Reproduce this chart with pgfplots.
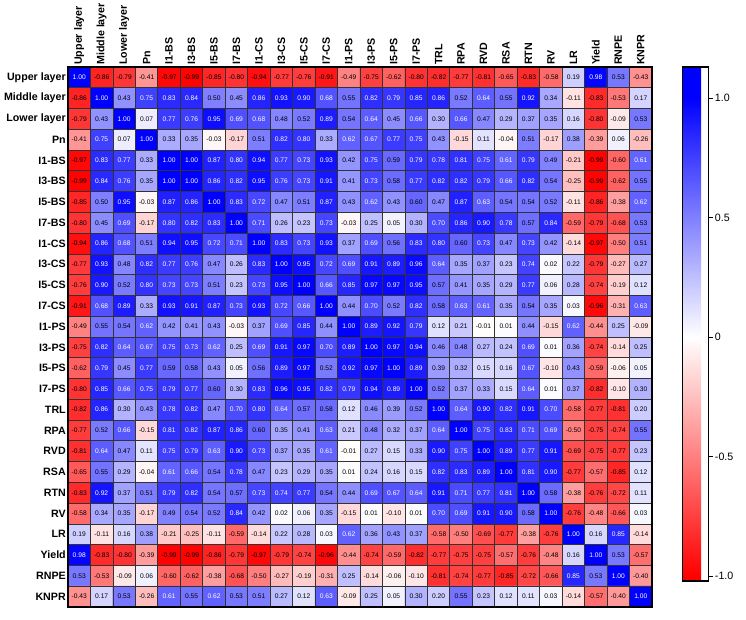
\documentclass[border=0pt]{standalone}
\usepackage{pgfplots}
\pgfplotsset{compat=1.18}
\usepackage{fontspec}
\setmainfont{Liberation Sans}
\begin{document}
\begin{tikzpicture}
\useasboundingbox (0,0) rectangle (559.5pt,465pt);
\begin{axis}[
  at={(51pt,9.75pt)}, anchor=south west,
  scale only axis, width=438pt, height=405pt,
  xmin=-0.5, xmax=25.5, ymin=-0.5, ymax=25.5,
  y dir=reverse,
  colormap={rwb}{rgb255(0pt)=(255,0,0); rgb255(2pt)=(255,0,0); rgb255(102pt)=(255,255,255); rgb255(202pt)=(0,0,255); rgb255(215pt)=(0,0,255)},
  point meta min=-1.02, point meta max=1.13,
  xtick={0,...,25}, ytick={0,...,25},
  xticklabels={Upper layer,Middle layer,Lower layer,Pn,I1-BS,I3-BS,I5-BS,I7-BS,I1-CS,I3-CS,I5-CS,I7-CS,I1-PS,I3-PS,I5-PS,I7-PS,TRL,RPA,RVD,RSA,RTN,RV,LR,Yield,RNPE,KNPR},
  yticklabels={Upper layer,Middle layer,Lower layer,Pn,I1-BS,I3-BS,I5-BS,I7-BS,I1-CS,I3-CS,I5-CS,I7-CS,I1-PS,I3-PS,I5-PS,I7-PS,TRL,RPA,RVD,RSA,RTN,RV,LR,Yield,RNPE,KNPR},
  xticklabel pos=upper,
  xticklabel style={rotate=90, anchor=west, inner sep=1.5pt, font=\bfseries\fontsize{8}{9.6}\selectfont},
  yticklabel style={anchor=east, inner sep=1.5pt, font=\bfseries\fontsize{8}{9.6}\selectfont},
  major tick length=0pt, minor tick length=0pt,
  minor xtick={-0.5,0.5,...,25.5}, minor ytick={-0.5,0.5,...,25.5},
  grid=minor, minor grid style={black!80, line width=0.6pt},
  axis on top,
  axis line style={line width=2.2pt},
  nodes near coords={\ifdim\pgfplotspointmetatransformed pt>756pt\color{white}\fi\pgfmathprintnumber[fixed,fixed zerofill,precision=2,assume math mode=true]{\pgfplotspointmeta}},
  nodes near coords align={center},
  every node near coord/.append style={anchor=center, inner sep=0pt, font=\fontsize{5}{6}\selectfont},
  colorbar,
  colorbar style={
    at={(parent axis.north east)}, anchor=north west, xshift=14pt,
    scale only axis, width=20pt, height=385.5pt,
    ytick={-1,-0.5,0,0.5,1}, yticklabels={-1.0,-0.5,0,0.5,1.0},
    yticklabel style={font=\fontsize{8}{9.6}\selectfont, inner sep=1.5pt},
    axis line style={line width=0.8pt},
    major tick length=3pt, tick align=outside, ytick pos=right,
    tick style={black, line width=0.6pt},
  },
]
\addplot[matrix plot*, mesh/cols=26, point meta=explicit]
 table[header=false, row sep=\\, x expr={\coordindex-26*floor((\coordindex+0.5)/26)}, y expr={floor((\coordindex+0.5)/26)}, meta index=0] {
1.00\\ -0.86\\ -0.79\\ -0.41\\ -0.97\\ -0.99\\ -0.85\\ -0.80\\ -0.94\\ -0.77\\ -0.76\\ -0.91\\ -0.49\\ -0.75\\ -0.62\\ -0.80\\ -0.82\\ -0.77\\ -0.81\\ -0.65\\ -0.83\\ -0.58\\ 0.19\\ 0.98\\ 0.53\\ -0.43\\
-0.86\\ 1.00\\ 0.43\\ 0.75\\ 0.83\\ 0.84\\ 0.50\\ 0.45\\ 0.86\\ 0.93\\ 0.90\\ 0.68\\ 0.55\\ 0.82\\ 0.79\\ 0.85\\ 0.86\\ 0.52\\ 0.64\\ 0.55\\ 0.92\\ 0.34\\ -0.11\\ -0.83\\ -0.53\\ 0.17\\
-0.79\\ 0.43\\ 1.00\\ 0.07\\ 0.77\\ 0.76\\ 0.95\\ 0.69\\ 0.68\\ 0.48\\ 0.52\\ 0.89\\ 0.54\\ 0.64\\ 0.45\\ 0.66\\ 0.30\\ 0.66\\ 0.47\\ 0.29\\ 0.37\\ 0.35\\ 0.16\\ -0.80\\ -0.09\\ 0.53\\
-0.41\\ 0.75\\ 0.07\\ 1.00\\ 0.33\\ 0.35\\ -0.03\\ -0.17\\ 0.51\\ 0.82\\ 0.80\\ 0.33\\ 0.62\\ 0.67\\ 0.77\\ 0.75\\ 0.43\\ -0.15\\ 0.11\\ -0.04\\ 0.51\\ -0.17\\ 0.38\\ -0.39\\ 0.06\\ -0.26\\
-0.97\\ 0.83\\ 0.77\\ 0.33\\ 1.00\\ 1.00\\ 0.87\\ 0.80\\ 0.94\\ 0.77\\ 0.73\\ 0.93\\ 0.42\\ 0.75\\ 0.59\\ 0.79\\ 0.78\\ 0.81\\ 0.75\\ 0.61\\ 0.79\\ 0.49\\ -0.21\\ -0.99\\ -0.60\\ 0.61\\
-0.99\\ 0.84\\ 0.76\\ 0.35\\ 1.00\\ 1.00\\ 0.86\\ 0.82\\ 0.95\\ 0.76\\ 0.73\\ 0.91\\ 0.41\\ 0.73\\ 0.58\\ 0.77\\ 0.82\\ 0.82\\ 0.79\\ 0.66\\ 0.82\\ 0.54\\ -0.25\\ -0.99\\ -0.62\\ 0.55\\
-0.85\\ 0.50\\ 0.95\\ -0.03\\ 0.87\\ 0.86\\ 1.00\\ 0.83\\ 0.72\\ 0.47\\ 0.51\\ 0.87\\ 0.43\\ 0.62\\ 0.43\\ 0.60\\ 0.47\\ 0.87\\ 0.63\\ 0.54\\ 0.54\\ 0.52\\ -0.11\\ -0.86\\ -0.38\\ 0.62\\
-0.80\\ 0.45\\ 0.69\\ -0.17\\ 0.80\\ 0.82\\ 0.83\\ 1.00\\ 0.71\\ 0.26\\ 0.23\\ 0.73\\ -0.03\\ 0.25\\ 0.05\\ 0.30\\ 0.70\\ 0.86\\ 0.90\\ 0.78\\ 0.57\\ 0.84\\ -0.59\\ -0.79\\ -0.68\\ 0.53\\
-0.94\\ 0.86\\ 0.68\\ 0.51\\ 0.94\\ 0.95\\ 0.72\\ 0.71\\ 1.00\\ 0.83\\ 0.73\\ 0.93\\ 0.37\\ 0.69\\ 0.56\\ 0.83\\ 0.80\\ 0.60\\ 0.73\\ 0.47\\ 0.73\\ 0.42\\ -0.14\\ -0.97\\ -0.50\\ 0.51\\
-0.77\\ 0.93\\ 0.48\\ 0.82\\ 0.77\\ 0.76\\ 0.47\\ 0.26\\ 0.83\\ 1.00\\ 0.95\\ 0.72\\ 0.69\\ 0.91\\ 0.89\\ 0.96\\ 0.64\\ 0.35\\ 0.37\\ 0.23\\ 0.74\\ 0.02\\ 0.22\\ -0.79\\ -0.27\\ 0.27\\
-0.76\\ 0.90\\ 0.52\\ 0.80\\ 0.73\\ 0.73\\ 0.51\\ 0.23\\ 0.73\\ 0.95\\ 1.00\\ 0.66\\ 0.85\\ 0.97\\ 0.97\\ 0.95\\ 0.57\\ 0.41\\ 0.35\\ 0.29\\ 0.77\\ 0.06\\ 0.28\\ -0.74\\ -0.19\\ 0.12\\
-0.91\\ 0.68\\ 0.89\\ 0.33\\ 0.93\\ 0.91\\ 0.87\\ 0.73\\ 0.93\\ 0.72\\ 0.66\\ 1.00\\ 0.44\\ 0.70\\ 0.52\\ 0.82\\ 0.58\\ 0.63\\ 0.61\\ 0.35\\ 0.54\\ 0.35\\ 0.03\\ -0.96\\ -0.31\\ 0.63\\
-0.49\\ 0.55\\ 0.54\\ 0.62\\ 0.42\\ 0.41\\ 0.43\\ -0.03\\ 0.37\\ 0.69\\ 0.85\\ 0.44\\ 1.00\\ 0.89\\ 0.92\\ 0.79\\ 0.12\\ 0.21\\ -0.01\\ 0.01\\ 0.44\\ -0.15\\ 0.62\\ -0.44\\ 0.25\\ -0.09\\
-0.75\\ 0.82\\ 0.64\\ 0.67\\ 0.75\\ 0.73\\ 0.62\\ 0.25\\ 0.69\\ 0.91\\ 0.97\\ 0.70\\ 0.89\\ 1.00\\ 0.97\\ 0.94\\ 0.46\\ 0.48\\ 0.27\\ 0.24\\ 0.69\\ 0.01\\ 0.36\\ -0.74\\ -0.14\\ 0.25\\
-0.62\\ 0.79\\ 0.45\\ 0.77\\ 0.59\\ 0.58\\ 0.43\\ 0.05\\ 0.56\\ 0.89\\ 0.97\\ 0.52\\ 0.92\\ 0.97\\ 1.00\\ 0.89\\ 0.39\\ 0.32\\ 0.15\\ 0.16\\ 0.67\\ -0.10\\ 0.43\\ -0.59\\ -0.06\\ 0.05\\
-0.80\\ 0.85\\ 0.66\\ 0.75\\ 0.79\\ 0.77\\ 0.60\\ 0.30\\ 0.83\\ 0.96\\ 0.95\\ 0.82\\ 0.79\\ 0.94\\ 0.89\\ 1.00\\ 0.52\\ 0.37\\ 0.33\\ 0.15\\ 0.64\\ 0.01\\ 0.37\\ -0.82\\ -0.10\\ 0.30\\
-0.82\\ 0.86\\ 0.30\\ 0.43\\ 0.78\\ 0.82\\ 0.47\\ 0.70\\ 0.80\\ 0.64\\ 0.57\\ 0.58\\ 0.12\\ 0.46\\ 0.39\\ 0.52\\ 1.00\\ 0.64\\ 0.90\\ 0.82\\ 0.91\\ 0.70\\ -0.58\\ -0.77\\ -0.81\\ 0.20\\
-0.77\\ 0.52\\ 0.66\\ -0.15\\ 0.81\\ 0.82\\ 0.87\\ 0.86\\ 0.60\\ 0.35\\ 0.41\\ 0.63\\ 0.21\\ 0.48\\ 0.32\\ 0.37\\ 0.64\\ 1.00\\ 0.75\\ 0.83\\ 0.71\\ 0.69\\ -0.50\\ -0.75\\ -0.74\\ 0.55\\
-0.81\\ 0.64\\ 0.47\\ 0.11\\ 0.75\\ 0.79\\ 0.63\\ 0.90\\ 0.73\\ 0.37\\ 0.35\\ 0.61\\ -0.01\\ 0.27\\ 0.15\\ 0.33\\ 0.90\\ 0.75\\ 1.00\\ 0.89\\ 0.77\\ 0.91\\ -0.69\\ -0.75\\ -0.77\\ 0.23\\
-0.65\\ 0.55\\ 0.29\\ -0.04\\ 0.61\\ 0.66\\ 0.54\\ 0.78\\ 0.47\\ 0.23\\ 0.29\\ 0.35\\ 0.01\\ 0.24\\ 0.16\\ 0.15\\ 0.82\\ 0.83\\ 0.89\\ 1.00\\ 0.81\\ 0.90\\ -0.77\\ -0.57\\ -0.85\\ 0.12\\
-0.83\\ 0.92\\ 0.37\\ 0.51\\ 0.79\\ 0.82\\ 0.54\\ 0.57\\ 0.73\\ 0.74\\ 0.77\\ 0.54\\ 0.44\\ 0.69\\ 0.67\\ 0.64\\ 0.91\\ 0.71\\ 0.77\\ 0.81\\ 1.00\\ 0.58\\ -0.38\\ -0.76\\ -0.72\\ 0.11\\
-0.58\\ 0.34\\ 0.35\\ -0.17\\ 0.49\\ 0.54\\ 0.52\\ 0.84\\ 0.42\\ 0.02\\ 0.06\\ 0.35\\ -0.15\\ 0.01\\ -0.10\\ 0.01\\ 0.70\\ 0.69\\ 0.91\\ 0.90\\ 0.58\\ 1.00\\ -0.76\\ -0.48\\ -0.66\\ 0.03\\
0.19\\ -0.11\\ 0.16\\ 0.38\\ -0.21\\ -0.25\\ -0.11\\ -0.59\\ -0.14\\ 0.22\\ 0.28\\ 0.03\\ 0.62\\ 0.36\\ 0.43\\ 0.37\\ -0.58\\ -0.50\\ -0.69\\ -0.77\\ -0.38\\ -0.76\\ 1.00\\ 0.16\\ 0.85\\ -0.14\\
0.98\\ -0.83\\ -0.80\\ -0.39\\ -0.99\\ -0.99\\ -0.86\\ -0.79\\ -0.97\\ -0.79\\ -0.74\\ -0.96\\ -0.44\\ -0.74\\ -0.59\\ -0.82\\ -0.77\\ -0.75\\ -0.75\\ -0.57\\ -0.76\\ -0.48\\ 0.16\\ 1.00\\ 0.53\\ -0.57\\
0.53\\ -0.53\\ -0.09\\ 0.06\\ -0.60\\ -0.62\\ -0.38\\ -0.68\\ -0.50\\ -0.27\\ -0.19\\ -0.31\\ 0.25\\ -0.14\\ -0.06\\ -0.10\\ -0.81\\ -0.74\\ -0.77\\ -0.85\\ -0.72\\ -0.66\\ 0.85\\ 0.53\\ 1.00\\ -0.40\\
-0.43\\ 0.17\\ 0.53\\ -0.26\\ 0.61\\ 0.55\\ 0.62\\ 0.53\\ 0.51\\ 0.27\\ 0.12\\ 0.63\\ -0.09\\ 0.25\\ 0.05\\ 0.30\\ 0.20\\ 0.55\\ 0.23\\ 0.12\\ 0.11\\ 0.03\\ -0.14\\ -0.57\\ -0.40\\ 1.00\\
};
\end{axis}
\end{tikzpicture}
\end{document}
